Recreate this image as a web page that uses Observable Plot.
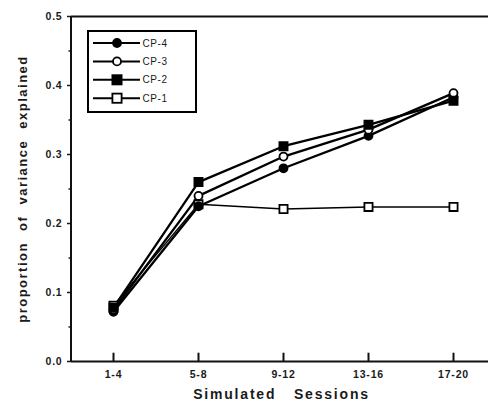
<!DOCTYPE html>
<html>
<head>
<meta charset="utf-8">
<script src="https://cdn.jsdelivr.net/npm/d3@7"></script>
<script src="https://cdn.jsdelivr.net/npm/@observablehq/plot@0.6"></script>
<style>
  html, body { margin: 0; padding: 0; background: white; }
</style>
</head>
<body>
<div id="chart"></div>
<script>
const sessions = ["1-4", "5-8", "9-12", "13-16", "17-20"];
const cp4 = [0.072, 0.225, 0.280, 0.327, 0.383];
const cp3 = [0.075, 0.240, 0.297, 0.336, 0.389];
const cp2 = [0.078, 0.260, 0.312, 0.343, 0.378];
const cp1 = [0.081, 0.228, 0.221, 0.224, 0.224];
const seriesNames = ["CP-4", "CP-3", "CP-2", "CP-1"];
const yTicks = [0, 0.1, 0.2, 0.3, 0.4, 0.5];
const yMinorTicks = [0.05, 0.15, 0.25, 0.35, 0.45];
const xTitle = "Simulated Sessions";
const yTitle = "proportion of variance explained";

const seriesValues = {"CP-4": cp4, "CP-3": cp3, "CP-2": cp2, "CP-1": cp1};
const styles = {
  "CP-4": {symbol: "circle", fill: "black", r: 4, lw: 2.3},
  "CP-3": {symbol: "circle", fill: "white", r: 4, lw: 2.3},
  "CP-2": {symbol: "square", fill: "black", r: 4.6, lw: 2.3},
  "CP-1": {symbol: "square", fill: "white", r: 4.6, lw: 1.4}
};
const rows = seriesNames.map(name =>
  sessions.map((s, i) => ({series: name, session: s, value: seriesValues[name][i]}))
);

const drawOrder = ["CP-1", "CP-4", "CP-3", "CP-2"];
const lineMarks = drawOrder.map(name => {
  const d = rows[seriesNames.indexOf(name)];
  return Plot.line(d, {x: "session", y: "value", stroke: "black", strokeWidth: styles[name].lw});
});
const dotMarks = drawOrder.map(name => {
  const d = rows[seriesNames.indexOf(name)];
  const st = styles[name];
  return Plot.dot(d, {x: "session", y: "value", symbol: st.symbol, r: st.r,
    fill: st.fill, stroke: "black", strokeWidth: 1.8});
});

const font = "'Liberation Sans', Arial, sans-serif";
const plot = Plot.plot({
  width: 488,
  height: 408,
  marginLeft: 71,
  marginRight: -3,
  marginTop: 16,
  marginBottom: 47,
  style: {fontFamily: font, background: "white", color: "#1a1a1a"},
  x: {type: "point", domain: sessions, padding: 0, insetLeft: 41, insetRight: 38},
  y: {domain: [0, 0.5]},
  marks: [
    Plot.ruleY([0, 0.5], {stroke: "#111", strokeWidth: 2}),
    Plot.axisY({ticks: yTicks, tickFormat: d3.format(".1f"), tickSize: 4, tickPadding: 5,
      fontSize: 10.5, fontWeight: "bold", label: null, strokeWidth: 1.5}),
    Plot.axisY({ticks: yMinorTicks, text: null, tickSize: 2.5, label: null, strokeWidth: 1.5}),
    Plot.ruleX(sessions, {y1: 0, y2: 0.012, stroke: "#111", strokeWidth: 2}),
    Plot.axisX({tickSize: 0, tickPadding: 9, fontSize: 10.5, fontWeight: "bold", label: null}),
    Plot.text([yTitle], {frameAnchor: "left", dx: -49, rotate: -90, textAnchor: "middle",
      fontSize: 13, fontWeight: "bold", fill: "#1a1a1a"}),
    Plot.text([xTitle], {frameAnchor: "bottom", dy: 37, textAnchor: "middle", fontSize: 14,
      fontWeight: "bold", fill: "#1a1a1a"}),
    ...lineMarks,
    ...dotMarks
  ]
});

const svg = d3.select(plot);
// spacing of titles, as in the scanned figure
svg.selectAll("text").filter(function() { return this.textContent === yTitle; })
  .attr("letter-spacing", "1.5px").attr("word-spacing", "6px");
svg.selectAll("text").filter(function() { return this.textContent === xTitle; })
  .attr("letter-spacing", "1.8px").attr("word-spacing", "12px");
svg.selectAll('g[aria-label="x-axis tick label"] text, g[aria-label="y-axis tick label"] text')
  .attr("letter-spacing", "0.8px");

// left axis line
svg.append("line").attr("x1", 71).attr("x2", 71).attr("y1", 16).attr("y2", 361)
  .attr("stroke", "#111").attr("stroke-width", 2);

// legend
const lg = svg.append("g");
lg.append("rect").attr("x", 88).attr("y", 31).attr("width", 108).attr("height", 81)
  .attr("fill", "white").attr("stroke", "black").attr("stroke-width", 2);
seriesNames.forEach((name, i) => {
  const y = 43 + i * 18.4;
  const st = styles[name];
  lg.append("line").attr("x1", 93).attr("x2", 140).attr("y1", y).attr("y2", y)
    .attr("stroke", "black").attr("stroke-width", 2);
  if (st.symbol === "circle") {
    lg.append("circle").attr("cx", 117).attr("cy", y).attr("r", st.r)
      .attr("fill", st.fill).attr("stroke", "black").attr("stroke-width", 1.8);
  } else {
    lg.append("rect").attr("x", 117 - st.r).attr("y", y - st.r)
      .attr("width", st.r * 2).attr("height", st.r * 2)
      .attr("fill", st.fill).attr("stroke", "black").attr("stroke-width", 1.8);
  }
  lg.append("text").attr("x", 155).attr("y", y).attr("dy", "0.35em")
    .attr("font-size", 10).attr("font-family", font).attr("letter-spacing", "0.6px")
    .attr("fill", "#1a1a1a").text(name);
});

document.getElementById("chart").appendChild(plot);
</script>
</body>
</html>
